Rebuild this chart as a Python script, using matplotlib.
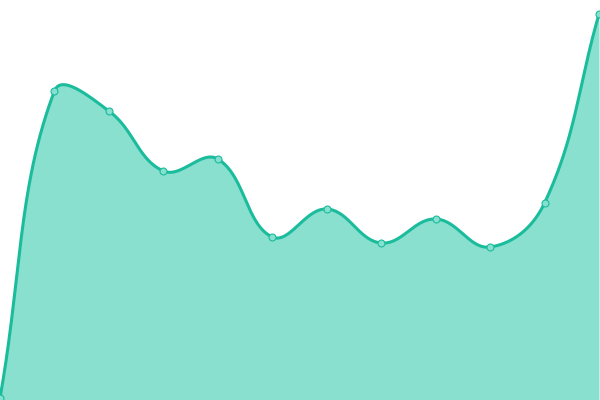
import matplotlib
matplotlib.use('Agg')
import matplotlib.pyplot as plt
import numpy as np

# values (0 = bottom edge, 400 = top edge)
labels = list(range(12))
values = [2, 309, 289, 229, 241, 163, 191, 157, 181, 153, 197, 386]

LINE = '#1abc9c'
FILL = '#89e0cf'
TENSION = 0.4


def spline(px, py, tension):
    # chart.js style spline: control points weighted by neighbour distances
    n = len(px)
    c_prev, c_next = [], []
    for i in range(n):
        p0 = (px[max(i - 1, 0)], py[max(i - 1, 0)])
        p1 = (px[i], py[i])
        p2 = (px[min(i + 1, n - 1)], py[min(i + 1, n - 1)])
        d01 = np.hypot(p1[0] - p0[0], p1[1] - p0[1])
        d12 = np.hypot(p2[0] - p1[0], p2[1] - p1[1])
        s01 = d01 / (d01 + d12) if d01 + d12 else 0
        s12 = d12 / (d01 + d12) if d01 + d12 else 0
        fa, fb = tension * s01, tension * s12
        c_prev.append((p1[0] - fa * (p2[0] - p0[0]), p1[1] - fa * (p2[1] - p0[1])))
        c_next.append((p1[0] + fb * (p2[0] - p0[0]), p1[1] + fb * (p2[1] - p0[1])))
    xs, ys = [], []
    t = np.linspace(0, 1, 60)
    for i in range(n - 1):
        a = np.array([px[i], py[i]])
        b = np.array(c_next[i])
        c = np.array(c_prev[i + 1])
        d = np.array([px[i + 1], py[i + 1]])
        pts = ((1 - t) ** 3)[:, None] * a + (3 * (1 - t) ** 2 * t)[:, None] * b \
            + (3 * (1 - t) * t ** 2)[:, None] * c + (t ** 3)[:, None] * d
        xs.extend(pts[:, 0])
        ys.extend(pts[:, 1])
    return np.array(xs), np.array(ys)


fig = plt.figure(figsize=(6, 4), dpi=100)
ax = fig.add_axes([0, 0, 1, 1])
xmax = 11 * 600 / 599
ax.set_xlim(0, xmax)
ax.set_ylim(0, 400)
ax.axis('off')

# spline is computed in pixel space, then mapped back
sx = 600 / xmax
x = np.array(labels, dtype=float)
y = np.array(values, dtype=float)
cx, cy = spline(x * sx, y, TENSION)
cx = cx / sx

ax.fill_between(cx, cy, 0, color=FILL, linewidth=0)
ax.plot(cx, cy, color=LINE, linewidth=2.2, solid_capstyle='round')
ax.plot(x, y, 'o', markersize=5, markerfacecolor='#86e0cf',
        markeredgecolor=LINE, markeredgewidth=0.8, clip_on=True)

fig.savefig('out.png', dpi=100)
